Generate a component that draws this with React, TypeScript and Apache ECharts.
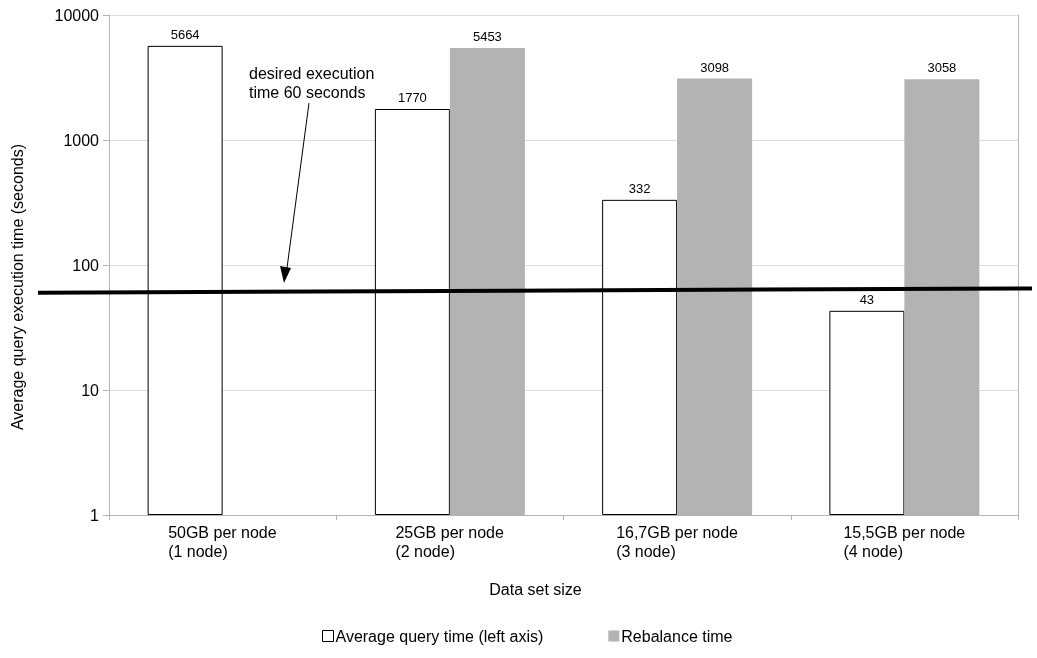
import React, { useEffect, useRef } from "react";
import * as echarts from "echarts";

const categories = [
  "50GB per node\n(1 node)",
  "25GB per node\n(2 node)",
  "16,7GB per node\n(3 node)",
  "15,5GB per node\n(4 node)",
];
const queryTime = [5664, 1770, 332, 43];
const rebalanceTime: (number | null)[] = [null, 5453, 3098, 3058];
const thresholdLeft = 60;
const thresholdRight = 65;
const annotationLines = ["desired execution", "time 60 seconds"];

const FONT = "'Liberation Sans', Arial, sans-serif";

export default function App() {
  const ref = useRef<HTMLDivElement>(null);
  useEffect(() => {
    if (!ref.current) return;
    const chart = echarts.init(ref.current, null, { renderer: "svg" });

    const canvas = document.createElement("canvas");
    const ctx = canvas.getContext("2d")!;
    ctx.font = "16px 'Liberation Sans'";
    const rich: Record<string, any> = {};
    categories.forEach((c, i) => {
      const w = Math.max(...c.split("\n").map((l) => ctx.measureText(l).width));
      rich["w" + i] = { width: Math.ceil(w), align: "left", fontSize: 16, lineHeight: 19, color: "#000", fontFamily: FONT };
    });

    chart.setOption({
      animation: false,
      textStyle: { fontFamily: FONT },
      grid: { left: 109, right: 19, top: 15, bottom: 143 },
      legend: {
        left: 317,
        top: 623,
        itemWidth: 11,
        itemHeight: 11,
        itemGap: 65,
        itemStyle: { borderWidth: 1 },
        textStyle: { fontSize: 16, color: "#000", fontFamily: FONT, padding: [0, 0, 0, -3] },
        data: [
          { name: "Average query time (left axis)", icon: "rect" },
          { name: "Rebalance time", icon: "rect" },
        ],
      },
      xAxis: {
        type: "category",
        data: categories,
        name: "Data set size",
        nameLocation: "middle",
        nameGap: 66,
        nameTextStyle: { fontSize: 16, color: "#000", fontFamily: FONT, padding: [0, 56, 0, 0] },
        axisLine: { lineStyle: { color: "#b3b3b3" } },
        axisTick: { show: true, length: 5, lineStyle: { color: "#b3b3b3" } },
        axisLabel: {
          margin: 8,
          interval: 0,
          formatter: (v: string, i: number) =>
            v.split("\n").map((l) => `{w${i}|${l}}`).join("\n"),
          rich,
        },
      },
      yAxis: [
        {
          type: "log",
          logBase: 10,
          min: 1,
          max: 10000,
          name: "Average query execution time (seconds)",
          nameLocation: "middle",
          nameGap: 84,
          nameTextStyle: { fontSize: 16, color: "#000", fontFamily: FONT, padding: [0, 44, 0, 0] },
          axisLine: { show: true, lineStyle: { color: "#b3b3b3" } },
          axisTick: { show: true, length: 6, lineStyle: { color: "#b3b3b3" } },
          axisLabel: { fontSize: 16, color: "#000", margin: 10, fontFamily: FONT, formatter: (v: number) => String(v) },
          splitLine: { show: true, lineStyle: { color: "#dddddd" } },
          minorTick: { show: false },
        },
        {
          type: "log",
          logBase: 10,
          min: 1,
          max: 10000,
          position: "right",
          axisLine: { show: true, lineStyle: { color: "#b3b3b3" } },
          axisTick: { show: false },
          axisLabel: { show: false },
          splitLine: { show: false },
        },
      ],
      series: [
        {
          name: "Average query time (left axis)",
          type: "bar",
          data: queryTime,
          barWidth: 75,
          barGap: "0%",
          itemStyle: { color: "#ffffff", borderColor: "#000000", borderWidth: 1 },
          label: { show: true, position: "top", distance: 5, fontSize: 13, color: "#000", fontFamily: FONT },
        },
        {
          name: "Rebalance time",
          type: "bar",
          data: rebalanceTime.map((v) => (v == null ? "-" : v)),
          barWidth: 75,
          barGap: "0%",
          itemStyle: { color: "#b3b3b3" },
          label: { show: true, position: "top", distance: 5, fontSize: 13, color: "#000", fontFamily: FONT },
        },
      ],
    });

    const yL = chart.convertToPixel({ yAxisIndex: 0 }, thresholdLeft) as number;
    const yR = chart.convertToPixel({ yAxisIndex: 0 }, thresholdRight) as number;
    chart.setOption({
      graphic: [
        {
          type: "line",
          shape: { x1: 38, y1: yL, x2: 1032, y2: yR },
          style: { stroke: "#000", lineWidth: 4 },
          z: 100,
        },
        {
          type: "text",
          x: 249,
          y: 64,
          style: {
            text: annotationLines.join("\n"),
            fontSize: 16,
            lineHeight: 19,
            fill: "#000",
            fontFamily: FONT,
          },
          z: 100,
        },
        {
          type: "line",
          shape: { x1: 309, y1: 103, x2: 287, y2: 268 },
          style: { stroke: "#000", lineWidth: 1 },
          z: 100,
        },
        {
          type: "polygon",
          shape: { points: [[280, 266], [291, 268], [284, 283]] },
          style: { fill: "#000" },
          z: 100,
        },
      ],
    });

    return () => chart.dispose();
  }, []);
  return <div ref={ref} style={{ position: "fixed", left: 0, top: 0, width: 1037, height: 658 }} />;
}
